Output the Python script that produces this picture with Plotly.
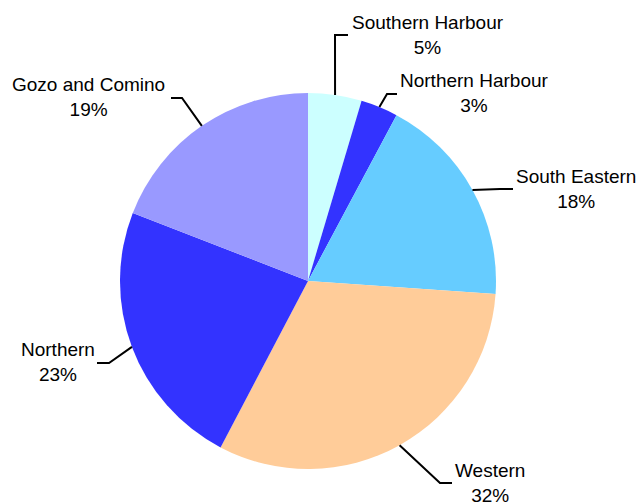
import math
import plotly.graph_objects as go

W, H = 642, 503

labels = ["Southern Harbour", "Northern Harbour", "South Eastern", "Western", "Northern", "Gozo and Comino"]
values = [4.6, 3.2, 18.3, 31.6, 23.2, 19.1]
colors = ["#CCFFFF", "#3333FF", "#66CCFF", "#FFCC99", "#3333FF", "#9999FF"]

# layout: pie centre / radius in screen pixels
CX, CY, R = 308, 281, 188
# label text centres (px) and leader elbow / end points (px)
label_pos = [(428, 35), (474, 93), (576, 189), (490, 483), (58, 362), (89, 97)]
elbows = [((335, 35), (348, 35)),
          ((387, 94), (397, 94)),
          ((500, 189), (513, 189)),
          ((440, 483), (452, 483)),
          ((109, 363), (97, 363)),
          ((182, 98), (171, 98))]


def px(x, y):
    return x / W, 1 - y / H


fig = go.Figure()
fig.add_trace(go.Pie(
    labels=labels, values=values, sort=False, direction="clockwise", rotation=0,
    marker=dict(colors=colors, line=dict(width=0)),
    textinfo="none", showlegend=False, hoverinfo="label+percent",
    domain=dict(x=[px(CX - R, 0)[0], px(CX + R, 0)[0]],
                y=[px(0, CY + R)[1], px(0, CY - R)[1]]),
))

total = sum(values)
cum = 0.0
shapes = []
annotations = []
for lab, v, (tx, ty), (e1, e2) in zip(labels, values, label_pos, elbows):
    mid = (cum + v / 2) / total * 2 * math.pi
    cum += v
    sx = CX + R * math.sin(mid)
    sy = CY - R * math.cos(mid)
    p0 = px(sx, sy)
    p1 = px(*e1)
    p2 = px(*e2)
    shapes.append(dict(type="path", xref="paper", yref="paper",
                       path=f"M {p0[0]} {p0[1]} L {p1[0]} {p1[1]} L {p2[0]} {p2[1]}",
                       line=dict(color="black", width=2)))
    pct = round(v / total * 100)
    ax, ay = px(tx, ty)
    annotations.append(dict(x=ax, y=ay, xref="paper", yref="paper", showarrow=False,
                            text=f"{lab}<br>{pct}%", xanchor="center", yanchor="middle",
                            font=dict(family="Liberation Sans, Arial", size=19, color="black")))

fig.update_layout(
    width=W, height=H, margin=dict(l=0, r=0, t=0, b=0),
    paper_bgcolor="white", plot_bgcolor="white",
    shapes=shapes, annotations=annotations,
)
fig.write_html("out.html", config={"displayModeBar": False},
               post_script="document.body.style.margin='0';document.body.style.overflow='hidden';")
